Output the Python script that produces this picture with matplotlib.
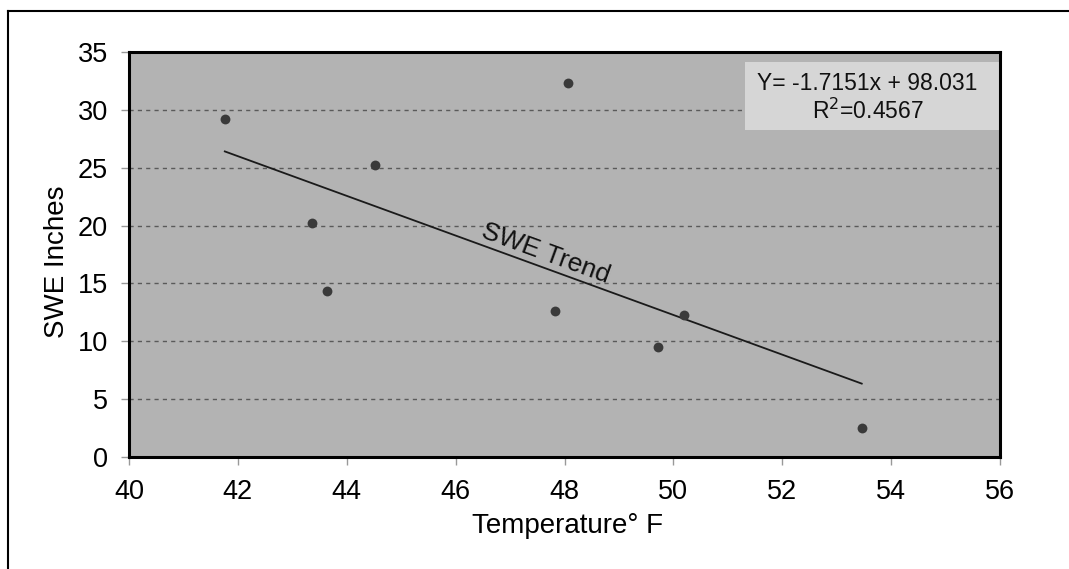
import matplotlib
matplotlib.use("Agg")
import matplotlib.pyplot as plt
from matplotlib.patches import Rectangle
import numpy as np

# Data
temperature_f = [41.76, 44.51, 43.37, 43.63, 48.07, 47.83, 50.19, 49.71, 53.46]
swe_inches = [29.2, 25.2, 20.2, 14.35, 32.3, 12.6, 12.3, 9.5, 2.5]
trend_slope = -1.7151
trend_intercept = 98.031
r_squared = 0.4567
x_ticks = [40, 42, 44, 46, 48, 50, 52, 54, 56]
y_ticks = [0, 5, 10, 15, 20, 25, 30, 35]

plt.rcParams['font.family'] = ['Liberation Sans', 'DejaVu Sans']

fig = plt.figure(figsize=(10.69, 5.69), dpi=100)
fig.patch.set_facecolor('white')
ax = fig.add_axes([129/1069, 1 - 457/569, 871/1069, 405/569])
ax.set_facecolor('#b3b3b3')

ax.set_xlim(x_ticks[0], x_ticks[-1])
ax.set_ylim(y_ticks[0], y_ticks[-1])
ax.set_xticks(x_ticks)
ax.set_yticks(y_ticks)
ax.tick_params(axis='both', labelsize=19.5, length=6, width=1, color='#999999')
ax.tick_params(axis='y', pad=9)
ax.tick_params(axis='x', pad=10)

ax.yaxis.grid(True, linestyle=(0, (3, 3)), color='#5a5a5a', linewidth=1)
ax.set_axisbelow(True)
for s in ax.spines.values():
    s.set_linewidth(2.2)
    s.set_color('black')

# equation box background
ax.add_patch(Rectangle((0.707, 0.807), 0.293, 0.168, transform=ax.transAxes,
                       facecolor='#d6d6d6', edgecolor='none', zorder=2))

# trend line
xs = np.array([min(temperature_f), max(temperature_f)])
ax.plot(xs, trend_slope * xs + trend_intercept, color='#1a1a1a', linewidth=1.3, zorder=3)

# points
ax.scatter(temperature_f, swe_inches, s=50, color='#3a3a3a', zorder=4, linewidths=0)

# trend label
ang = np.degrees(np.arctan(trend_slope * (405/35) / (871/16)))
xm = 47.65
ax.text(xm, trend_slope * xm + trend_intercept + 1.3, 'SWE Trend', fontsize=19,
        rotation=ang, rotation_mode='anchor', ha='center', va='center', color='#111111', zorder=5)

# equation text
ax.text(0.848, 0.886, f'Y= {trend_slope}x + {trend_intercept}\nR$^2$=' + f'{r_squared}',
        transform=ax.transAxes, ha='center', va='center', fontsize=16.5, linespacing=1.2,
        color='#111111', zorder=5)

ax.set_ylabel('SWE Inches', fontsize=20)
ax.set_xlabel('Temperature° F', fontsize=20)
ax.yaxis.set_label_coords((57 - 129) / 871, (457 - 262) / 405)
ax.xaxis.set_label_coords((567 - 129) / 871, (457 - 526) / 405)
ax.yaxis.label.set_va('center')
ax.xaxis.label.set_va('center')

# outer frame lines (left and top)
fig.add_artist(plt.Line2D([8/1069, 8/1069], [0, 1 - 11/569], transform=fig.transFigure,
                          color='black', linewidth=1.5))
fig.add_artist(plt.Line2D([8/1069, 1], [1 - 11/569, 1 - 11/569], transform=fig.transFigure,
                          color='black', linewidth=1.5))

fig.savefig('out.png', dpi=100)
